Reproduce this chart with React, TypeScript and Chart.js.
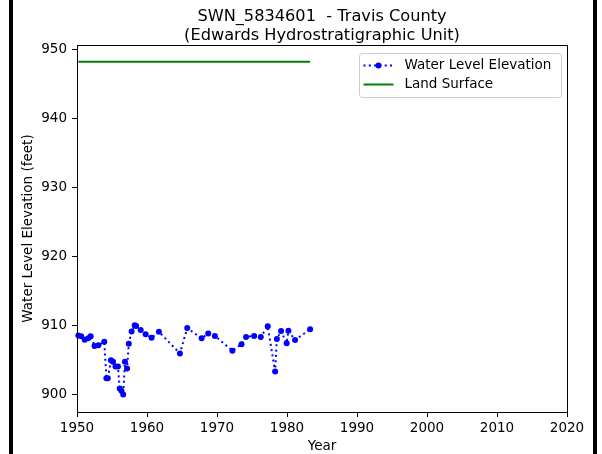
import { useEffect, useRef } from 'react';
import { Chart, registerables } from 'chart.js';

Chart.register(...registerables);

const TITLE_LINES = ['SWN_5834601  - Travis County', '(Edwards Hydrostratigraphic Unit)'];
const X_LABEL = 'Year';
const Y_LABEL = 'Water Level Elevation (feet)';
const SERIES_LABELS = ['Water Level Elevation', 'Land Surface'];

const YEAR_TICKS = [1950, 1960, 1970, 1980, 1990, 2000, 2010, 2020];
const LEVEL_TICKS = [900, 910, 920, 930, 940, 950];

// measurement dates as decimal years, with the measured elevation (feet)
const MEASURE_YEARS = [
  1950.2, 1950.6, 1951.1, 1951.6, 1951.95, 1952.5, 1953.05, 1953.9,
  1954.2, 1954.4, 1954.85, 1955.15, 1955.5, 1955.85, 1956.1, 1956.35,
  1956.6, 1956.85, 1957.15, 1957.4, 1957.8, 1958.25, 1958.45, 1959.1,
  1959.8, 1960.65, 1961.7, 1964.7, 1965.75, 1967.8, 1968.75, 1969.7,
  1972.2, 1973.5, 1974.15, 1975.3, 1976.25, 1977.25, 1978.3, 1978.55,
  1979.15, 1979.95, 1980.2, 1981.15, 1983.3,
];
const WATER_LEVELS = [
  908.5, 908.4, 907.9, 908.1, 908.4, 907.0, 907.1, 907.6,
  902.3, 902.3, 904.9, 904.7, 904.0, 904.0, 900.8, 900.5,
  899.95, 904.7, 903.7, 907.3, 909.1, 910.0, 909.9, 909.3,
  908.7, 908.2, 909.05, 905.9, 909.6, 908.1, 908.8, 908.45,
  906.3, 907.25, 908.3, 908.45, 908.3, 909.85, 903.3, 908.0,
  909.15, 907.4, 909.2, 907.85, 909.4,
];
const LAND_SURFACE = 948.27;

const X_MIN = 1950;
const X_MAX = 2020;
const Y_MIN = 897.4;
const Y_MAX = 950.7;

const FONT = 'DejaVu Sans';
const BLUE = '#0000ff';
const GREEN = '#008000';

const decorations = {
  id: 'decorations',
  afterDraw(chart: Chart) {
    const { ctx, chartArea } = chart;
    const { left, top, right, bottom } = chartArea;
    ctx.save();

    // plot frame
    ctx.strokeStyle = '#000';
    ctx.lineWidth = 1;
    ctx.setLineDash([]);
    ctx.strokeRect(left + 0.5, top + 0.5, right - left, bottom - top);

    // two-line title
    const cx = (left + right) / 2;
    ctx.fillStyle = '#000';
    ctx.font = `16.2px "${FONT}"`;
    ctx.textAlign = 'center';
    ctx.textBaseline = 'alphabetic';
    ctx.fillText(TITLE_LINES[0], cx, 21);
    ctx.fillText(TITLE_LINES[1], cx, 39.5);

    // legend
    const boxW = 202;
    const boxH = 44;
    const bx = right - 5.5 - boxW;
    const by = top + 8.5;
    ctx.beginPath();
    ctx.roundRect(bx, by, boxW, boxH, 3);
    ctx.fillStyle = 'rgba(255,255,255,0.8)';
    ctx.fill();
    ctx.strokeStyle = '#cccccc';
    ctx.lineWidth = 1;
    ctx.stroke();

    const lx0 = bx + 4;
    const lx1 = bx + 34;
    const tx = bx + 45;
    const y1 = by + 12;
    const y2 = by + 31;

    ctx.strokeStyle = BLUE;
    ctx.lineWidth = 2;
    ctx.setLineDash([2, 3.3]);
    ctx.beginPath();
    ctx.moveTo(lx0, y1);
    ctx.lineTo(lx1, y1);
    ctx.stroke();
    ctx.setLineDash([]);
    ctx.fillStyle = BLUE;
    ctx.beginPath();
    ctx.arc((lx0 + lx1) / 2, y1, 3, 0, Math.PI * 2);
    ctx.fill();

    ctx.strokeStyle = GREEN;
    ctx.lineWidth = 2;
    ctx.beginPath();
    ctx.moveTo(lx0, y2);
    ctx.lineTo(lx1, y2);
    ctx.stroke();

    ctx.fillStyle = '#000';
    ctx.font = `13.5px "${FONT}"`;
    ctx.textAlign = 'left';
    ctx.textBaseline = 'middle';
    ctx.fillText(SERIES_LABELS[0], tx, y1);
    ctx.fillText(SERIES_LABELS[1], tx, y2);

    ctx.restore();
  },
};

export default function App() {
  const canvasRef = useRef<HTMLCanvasElement | null>(null);

  useEffect(() => {
    const canvas = canvasRef.current;
    if (!canvas) return;

    const waterPoints = MEASURE_YEARS.map((x, i) => ({ x, y: WATER_LEVELS[i] }));
    const landPoints = [
      { x: MEASURE_YEARS[0], y: LAND_SURFACE },
      { x: MEASURE_YEARS[MEASURE_YEARS.length - 1], y: LAND_SURFACE },
    ];

    const tickFont = { family: FONT, size: 13.5 };

    const chart = new Chart(canvas, {
      type: 'line',
      data: {
        datasets: [
          {
            label: SERIES_LABELS[0],
            data: waterPoints,
            borderColor: BLUE,
            backgroundColor: BLUE,
            borderWidth: 2,
            borderDash: [2, 3.3],
            borderJoinStyle: 'round',
            pointRadius: 3,
            pointBorderWidth: 0,
            pointBackgroundColor: BLUE,
            tension: 0,
            clip: 6,
          },
          {
            label: SERIES_LABELS[1],
            data: landPoints,
            borderColor: GREEN,
            backgroundColor: GREEN,
            borderWidth: 2,
            pointRadius: 0,
            tension: 0,
          },
        ],
      },
      options: {
        animation: false,
        responsive: false,
        devicePixelRatio: 1,
        layout: { padding: { top: 45, right: 35, left: 0, bottom: 0 } },
        plugins: {
          legend: { display: false },
          title: { display: false },
          tooltip: { enabled: false },
        },
        scales: {
          x: {
            type: 'linear',
            min: X_MIN,
            max: X_MAX,
            afterBuildTicks: (s: any) => {
              s.ticks = YEAR_TICKS.map((value) => ({ value }));
            },
            afterFit: (s: any) => {
              s.height = 42;
            },
            border: { display: false },
            grid: {
              drawOnChartArea: false,
              drawTicks: true,
              tickLength: 5,
              color: '#000',
              lineWidth: 1,
            },
            ticks: {
              color: '#000',
              font: tickFont,
              padding: 3,
              maxRotation: 0,
              callback: (v: any) => String(v),
            },
            title: {
              display: true,
              text: X_LABEL,
              color: '#000',
              font: tickFont,
              padding: { top: 0, bottom: -1 },
            },
          },
          y: {
            type: 'linear',
            min: Y_MIN,
            max: Y_MAX,
            afterBuildTicks: (s: any) => {
              s.ticks = LEVEL_TICKS.map((value) => ({ value }));
            },
            afterFit: (s: any) => {
              s.width = 77;
            },
            border: { display: false },
            grid: {
              drawOnChartArea: false,
              drawTicks: true,
              tickLength: 5,
              color: '#000',
              lineWidth: 1,
            },
            ticks: {
              color: '#000',
              font: tickFont,
              padding: 5,
              callback: (v: any) => String(v),
            },
            title: {
              display: true,
              text: Y_LABEL,
              color: '#000',
              font: tickFont,
              padding: { top: 20, bottom: 0 },
            },
          },
        },
      },
      plugins: [decorations],
    });

    return () => chart.destroy();
  }, []);

  return (
    <div style={{ position: 'absolute', left: 0, top: 0, width: 602, height: 454, background: '#fff' }}>
      <canvas ref={canvasRef} width={602} height={454} style={{ width: 602, height: 454, display: 'block' }} />
      <div style={{ position: 'absolute', left: 9, top: 0, width: 4, height: 454, background: '#000' }} />
      <div style={{ position: 'absolute', left: 593, top: 0, width: 4, height: 454, background: '#000' }} />
    </div>
  );
}
